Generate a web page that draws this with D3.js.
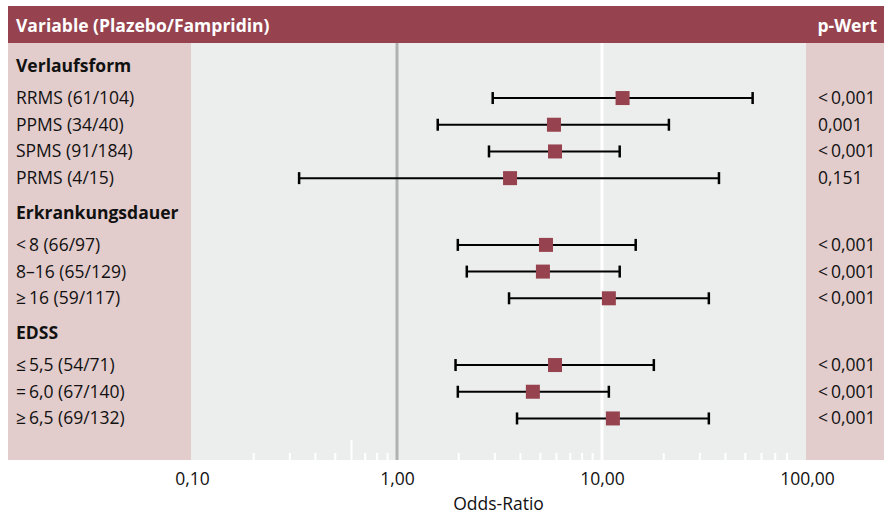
<!DOCTYPE html>
<html>
<head>
<meta charset="utf-8">
<script src="https://cdn.jsdelivr.net/npm/d3@7"></script>
<style>
  body { margin: 0; background: #fff; }
  text { font-family: "Open Sans", "Noto Sans", sans-serif; }
</style>
</head>
<body>
<div id="chart"></div>
<script>
// data
var groups = ["Verlaufsform", "Erkrankungsdauer", "EDSS"];
var labels = ["RRMS (61/104)", "PPMS (34/40)", "SPMS (91/184)", "PRMS (4/15)",
              "<\u20098 (66/97)", "8\u201316 (65/129)", "\u2265\u200916 (59/117)",
              "\u2264\u20095,5 (54/71)", "=\u20096,0 (67/140)", "\u2265\u20096,5 (69/132)"];
var rowGroup = [0, 0, 0, 0, 1, 1, 1, 2, 2, 2];
var oddsRatio = [12.6, 5.83, 5.9, 3.56, 5.33, 5.15, 10.8, 5.9, 4.6, 11.3];
var ciLow = [2.93, 1.58, 2.81, 0.333, 1.98, 2.19, 3.52, 1.93, 1.98, 3.85];
var ciHigh = [54.3, 21.2, 12.2, 37.2, 14.6, 12.2, 33.2, 17.9, 10.8, 33.2];
var pValues = ["<\u20090,001", "0,001", "<\u20090,001", "0,151",
               "<\u20090,001", "<\u20090,001", "<\u20090,001",
               "<\u20090,001", "<\u20090,001", "<\u20090,001"];
var tickValues = [0.1, 1, 10, 100];
var tickLabels = ["0,10", "1,00", "10,00", "100,00"];
var minorTicks = [0.2, 0.3, 0.4, 0.5, 0.6, 0.7, 0.8, 0.9,
                  2, 3, 4, 5, 6, 7, 8, 9,
                  20, 30, 40, 50, 60, 70, 80];
var tallTicks = [0.6];

var width = 884, height = 515;
var maroon = "#96434f", pink = "#e2cccc", plotGray = "#eceded";
var plotTop = 43, plotBottom = 460;
var plotLeft = 191, plotRight = 806;
var fs = 17.5;

var svg = d3.select("#chart").append("svg")
    .attr("width", width)
    .attr("height", height);

var xScale = d3.scaleLog()
    .domain([0.1, 100])
    .range([192, 807]);

// slot positions: group header, then rows
var slots = [];
var s = 0;
for (var g = 0; g < groups.length; g++) {
    if (g > 0) s += 1.3;
    slots.push({ type: "group", text: groups[g], slot: s });
    s += 0.2;
    for (var i = 0; i < labels.length; i++) {
        if (rowGroup[i] != g) continue;
        s += 1;
        slots.push({ type: "row", idx: i, slot: s });
    }
}
var yScale = d3.scaleLinear().domain([0, 1]).range([66, 66 + 26.7]);

// panels
svg.append("rect").attr("x", 8).attr("y", 6).attr("width", width - 8).attr("height", plotTop - 6).attr("fill", maroon);
svg.append("rect").attr("x", 8).attr("y", plotTop).attr("width", plotLeft - 8).attr("height", plotBottom - plotTop).attr("fill", pink);
svg.append("rect").attr("x", plotLeft).attr("y", plotTop).attr("width", plotRight - plotLeft).attr("height", plotBottom - plotTop).attr("fill", plotGray);
svg.append("rect").attr("x", plotRight).attr("y", plotTop).attr("width", width - plotRight).attr("height", plotBottom - plotTop).attr("fill", pink);

svg.append("text").attr("x", 16).attr("y", 32)
    .attr("fill", "#fff").attr("font-size", fs).attr("font-weight", "bold")
    .text("Variable (Plazebo/Fampridin)");
svg.append("text").attr("x", 877).attr("y", 32)
    .attr("fill", "#fff").attr("font-size", fs).attr("font-weight", "bold")
    .attr("text-anchor", "end")
    .text("p-Wert");

// reference lines
svg.append("line")
    .attr("x1", xScale(1)).attr("x2", xScale(1))
    .attr("y1", plotTop).attr("y2", plotBottom)
    .attr("stroke", "#b0b1b1").attr("stroke-width", 3);
svg.append("line")
    .attr("x1", xScale(10)).attr("x2", xScale(10))
    .attr("y1", plotTop).attr("y2", plotBottom)
    .attr("stroke", "#fff").attr("stroke-width", 3);

// minor ticks
svg.append("g").selectAll("line")
    .data(minorTicks)
    .enter().append("line")
    .attr("x1", function(d) { return xScale(d); })
    .attr("x2", function(d) { return xScale(d); })
    .attr("y1", function(d) { return tallTicks.indexOf(d) >= 0 ? plotBottom - 20 : plotBottom - 7; })
    .attr("y2", plotBottom)
    .attr("stroke", "#fff").attr("stroke-width", 2);

// axis
var xAxis = d3.axisBottom(xScale)
    .tickValues(tickValues)
    .tickSize(0)
    .tickPadding(0)
    .tickFormat(function(d, i) { return tickLabels[i]; });
var axisG = svg.append("g")
    .attr("transform", "translate(0," + plotBottom + ")")
    .call(xAxis);
axisG.select(".domain").remove();
axisG.selectAll("text")
    .attr("y", 25)
    .attr("dy", 0)
    .attr("fill", "#111")
    .attr("font-size", fs)
    .attr("font-family", "'Open Sans', sans-serif");

svg.append("text")
    .attr("x", (plotLeft + plotRight) / 2).attr("y", 510)
    .attr("text-anchor", "middle")
    .attr("font-size", fs).attr("fill", "#111")
    .text("Odds-Ratio");

// labels
svg.append("g").selectAll("text")
    .data(slots)
    .enter().append("text")
    .attr("x", 16)
    .attr("y", function(d) { return yScale(d.slot) + 6; })
    .attr("font-size", fs)
    .attr("font-weight", function(d) { return d.type == "group" ? "bold" : "normal"; })
    .attr("fill", "#111")
    .text(function(d) { return d.type == "group" ? d.text : labels[d.idx]; });

var rows = slots.filter(function(d) { return d.type == "row"; });

svg.append("g").selectAll("text")
    .data(rows)
    .enter().append("text")
    .attr("x", 818)
    .attr("y", function(d) { return yScale(d.slot) + 6; })
    .attr("font-size", fs)
    .attr("fill", "#111")
    .text(function(d) { return pValues[d.idx]; });

// confidence intervals
var ci = svg.append("g").selectAll("g")
    .data(rows)
    .enter().append("g")
    .attr("transform", function(d) { return "translate(0," + yScale(d.slot) + ")"; });

ci.append("line")
    .attr("x1", function(d) { return xScale(ciLow[d.idx]); })
    .attr("x2", function(d) { return xScale(ciHigh[d.idx]); })
    .attr("stroke", "#000").attr("stroke-width", 2);
ci.append("line")
    .attr("x1", function(d) { return xScale(ciLow[d.idx]); })
    .attr("x2", function(d) { return xScale(ciLow[d.idx]); })
    .attr("y1", -6).attr("y2", 6)
    .attr("stroke", "#000").attr("stroke-width", 2.5);
ci.append("line")
    .attr("x1", function(d) { return xScale(ciHigh[d.idx]); })
    .attr("x2", function(d) { return xScale(ciHigh[d.idx]); })
    .attr("y1", -6).attr("y2", 6)
    .attr("stroke", "#000").attr("stroke-width", 2.5);
ci.append("rect")
    .attr("x", function(d) { return xScale(oddsRatio[d.idx]) - 7; })
    .attr("y", -7)
    .attr("width", 14).attr("height", 14)
    .attr("fill", maroon);
</script>
</body>
</html>
